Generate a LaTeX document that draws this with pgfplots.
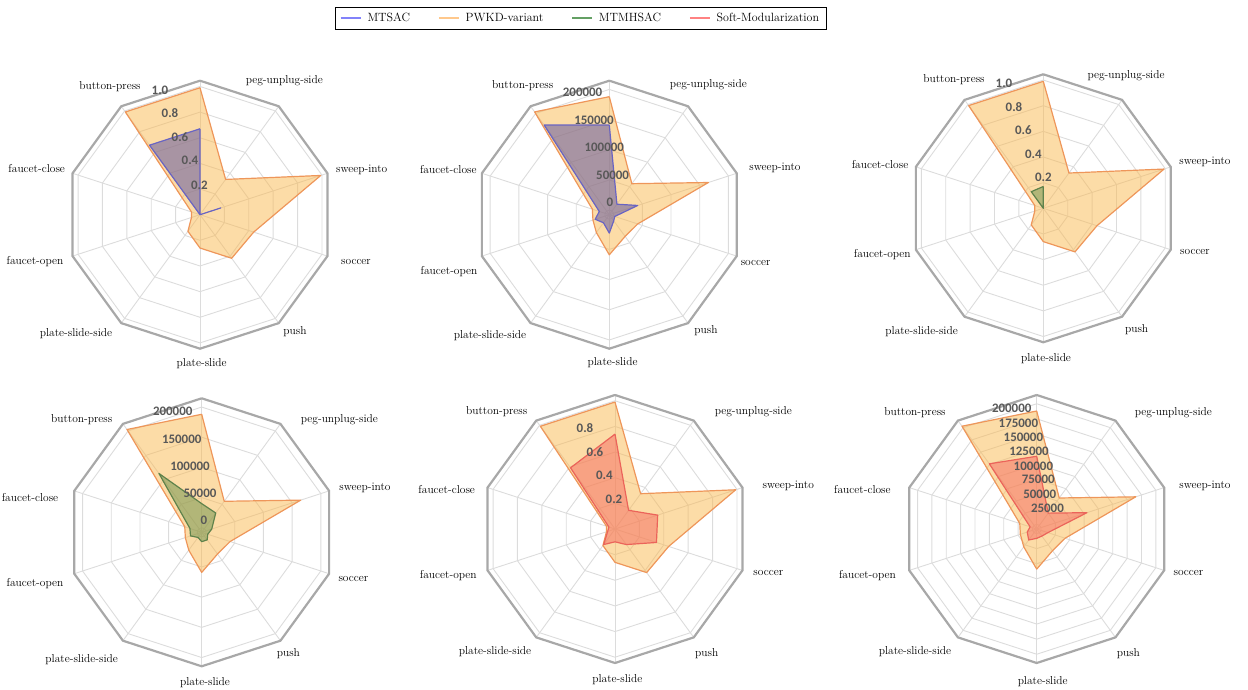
\documentclass[border=0pt]{standalone}
\usepackage{pgfplots}
\pgfplotsset{compat=1.18}
\usepackage{pgfplotstable}
\usepackage{fontspec}
\newfontfamily\tickfont{Carlito}

% colours
\definecolor{gridc}{RGB}{220,220,220}
\definecolor{rimc}{RGB}{168,168,168}
\definecolor{pwline}{RGB}{238,150,90}
\definecolor{pwfill}{RGB}{250,185,80}
\definecolor{mtline}{RGB}{105,100,195}
\definecolor{mtfill}{RGB}{100,90,160}
\definecolor{mhline}{RGB}{95,130,75}
\definecolor{mhfill}{RGB}{105,145,75}
\definecolor{smline}{RGB}{235,100,90}
\definecolor{smfill}{RGB}{245,105,95}
\definecolor{tickc}{RGB}{88,88,88}
\definecolor{legmt}{RGB}{130,130,250}
\definecolor{legpw}{RGB}{255,200,140}
\definecolor{legmh}{RGB}{100,160,100}
\definecolor{legsm}{RGB}{255,130,130}

% spokes: top, peg-unplug-side, sweep-into, soccer, push, plate-slide,
% plate-slide-side, faucet-open, faucet-close, button-press (clockwise)
\pgfplotstableread{
a     pw     mtsac  mtmh  soft
90    0.99   0.67   0.17  0.74
54    0.34   0.00   0.00  0.18
18    0.99   0.17   0.00  0.35
-18   0.44   0.00   0.00  0.34
-54   0.42   0.00   0.00  0.15
-90   0.26   0.00   0.00  0.10
-126  0.16   0.00   0.00  0.15
-162  0.07   0.00   0.00  0.06
-198  0.07   0.00   0.00  0.05
-234  0.99   0.67   0.16  0.59
90    0.99   0.67   0.17  0.74
}\successdata

\pgfplotstableread{
a     pw      mtsac   mtmh    soft
90    188000  141000  40000   113000
54    56000   14000   32000   25000
18    165000  42000   10000   80000
-18   42000   2000    3000    12000
-54   37000   5000    8000    7000
-90   59000   23000   8000    8000
-126  29000   9000    3000    15000
-162  21000   17000   12000   9000
-198  22000   10000   13000   4000
-234  203000  176000  113000  126000
90    188000  141000  40000   113000
}\rewarddata

% spoke angles for the polygon rings
\pgfplotstableread{
a     k
90    0
54    1
18    2
-18   3
-54   4
-90   5
-126  6
-162  7
-198  8
-234  9
90    10
}\ringangles

% radial extent of one spoke
\pgfplotstableread{
r  k
0  0
1  1
}\spoketab

\pgfplotsset{
  radar/.style={hide axis, clip=false, scale only axis,
    width=268bp, height=268bp,
    xmin=-1, xmax=1, ymin=-1, ymax=1, anchor=center},
}

% polygon rings at the given normalised radii
\newcommand\rings[1]{%
  \pgfplotsinvokeforeach{#1}{%
    \addplot[gridc, line width=0.9bp] table[x expr={##1*cos(\thisrow{a})},
      y expr={##1*sin(\thisrow{a})}] {\ringangles};}%
}
% spokes and outer rim
\newcommand\radarframe{%
  \pgfplotsinvokeforeach{90,54,18,-18,-54,-90,-126,-162,-198,-234}{%
    \addplot[gridc, line width=0.9bp] table[x expr={\thisrow{r}*cos(##1)},
      y expr={\thisrow{r}*sin(##1)}] {\spoketab};}%
  \addplot[rimc, line width=2.2bp] table[x expr={cos(\thisrow{a})},
    y expr={sin(\thisrow{a})}] {\ringangles};%
}
% one filled series: table, column, line colour, fill colour, fill opacity
\newcommand\series[5]{%
  \addplot[draw=#3, fill=#4, fill opacity=#5, line width=1.2bp, line join=round]
    table[x expr={(\thisrow{#2}-\rmin)/\rspan*cos(\thisrow{a})},
          y expr={(\thisrow{#2}-\rmin)/\rspan*sin(\thisrow{a})}] {#1};%
}
\newcommand\cat[3]{\node[font=\fontsize{11.5}{13}\selectfont, inner sep=0pt]
  at ([xshift=#1bp,yshift=#2bp]axis cs:0,0) {#3};}
\newcommand\tk[3]{\node[font=\tickfont\bfseries\fontsize{13}{15}\selectfont,
  text=tickc, inner sep=0pt] at ([xshift=#1bp,yshift=#2bp]axis cs:0,0) {#3};}

\begin{document}
\begin{tikzpicture}
\useasboundingbox (0bp,0bp) rectangle (1248bp,690bp);

% ---------- legend ----------
\begin{axis}[at={(580.5bp,672bp)}, anchor=center, hide axis, scale only axis,
  width=10bp, height=10bp, xmin=0, xmax=1, ymin=0, ymax=1,
  legend columns=4,
  legend style={at={(0.5,0.5)}, anchor=center, draw=black, line width=0.8bp,
    font=\fontsize{12}{14}\selectfont, inner xsep=5bp, inner ysep=4bp,
    /tikz/every odd column/.append style={column sep=4bp},
    /tikz/every even column/.append style={column sep=26bp}},
  legend image code/.code={\draw[#1, line width=1.6bp] (0bp,0bp) -- (20bp,0bp);}]
\addlegendimage{legmt}\addlegendentry{MTSAC}
\addlegendimage{legpw}\addlegendentry{PWKD-variant}
\addlegendimage{legmh}\addlegendentry{MTMHSAC}
\addlegendimage{legsm}\addlegendentry{Soft-Modularization}
\end{axis}

% ---------- success rate: PWKD-variant vs MTSAC ----------
\def\rmin{0}\def\rspan{1.045}
\begin{axis}[radar, at={(200bp,475.3bp)}]
\rings{0.1914,0.3828,0.5742,0.7656,0.9569}
\radarframe
\series{\successdata}{pw}{pwline}{pwfill}{0.5}
\series{\successdata}{mtsac}{mtline}{mtfill}{0.55}
\tk{-0.7}{29.7}{0.2}\tk{-10}{54}{0.4}\tk{-20}{77.3}{0.6}\tk{-30}{101.3}{0.8}\tk{-40}{124.7}{1.0}
\cat{-90}{128}{button-press}\cat{84.3}{134}{peg-unplug-side}
\cat{161.7}{45.3}{sweep-into}\cat{156}{-47}{soccer}\cat{95}{-117}{push}
\cat{1.7}{-149.3}{plate-slide}\cat{-124}{-119.3}{plate-slide-side}
\cat{-165}{-47}{faucet-open}\cat{-163.3}{46.3}{faucet-close}
\end{axis}

% ---------- reward: PWKD-variant vs MTSAC ----------
\def\rmin{-7500}\def\rspan{222000}
\begin{axis}[radar, at={(609.3bp,475.3bp)}]
\rings{0.0338,0.2590,0.4842,0.7095,0.9347}
\radarframe
\series{\rewarddata}{pw}{pwline}{pwfill}{0.5}
\series{\rewarddata}{mtsac}{mtline}{mtfill}{0.55}
\tk{0.7}{12}{0}\tk{3.3}{39.7}{50000}\tk{-5}{67.3}{100000}\tk{-15.3}{94.7}{150000}\tk{-26.7}{122}{200000}
\cat{-86.7}{128.7}{button-press}\cat{99}{129.7}{peg-unplug-side}
\cat{165.7}{47}{sweep-into}\cat{146.3}{-48}{soccer}\cat{96.7}{-116.3}{push}
\cat{3.3}{-147.7}{plate-slide}\cat{-119.3}{-121}{plate-slide-side}
\cat{-160.3}{-57}{faucet-open}\cat{-161}{44.7}{faucet-close}
\end{axis}

% ---------- success rate: PWKD-variant vs MTMHSAC ----------
\def\rmin{0}\def\rspan{1.045}
\begin{axis}[radar, at={(1043.3bp,481.7bp)}]
\rings{0.1914,0.3828,0.5742,0.7656,0.9569}
\radarframe
\series{\successdata}{pw}{pwline}{pwfill}{0.5}
\series{\successdata}{mtmh}{mhline}{mhfill}{0.5}
\tk{0}{30.7}{0.2}\tk{-10}{54}{0.4}\tk{-20}{77.7}{0.6}\tk{-29.3}{101}{0.8}\tk{-39.3}{125}{1.0}
\cat{-89.3}{128.3}{button-press}\cat{82.7}{132.3}{peg-unplug-side}
\cat{161.7}{46.7}{sweep-into}\cat{151.7}{-43.3}{soccer}\cat{93.3}{-121}{push}
\cat{2.7}{-150.7}{plate-slide}\cat{-121.7}{-123.3}{plate-slide-side}
\cat{-161}{-46}{faucet-open}\cat{-163.3}{43.3}{faucet-close}
\end{axis}

% ---------- reward: PWKD-variant vs MTMHSAC ----------
\def\rmin{-7500}\def\rspan{222000}
\begin{axis}[radar, at={(201.7bp,157.7bp)}]
\rings{0.0338,0.2590,0.4842,0.7095,0.9347}
\radarframe
\series{\rewarddata}{pw}{pwline}{pwfill}{0.5}
\series{\rewarddata}{mtmh}{mhline}{mhfill}{0.5}
\tk{2.3}{12.3}{0}\tk{-1.7}{39}{50000}\tk{-11.7}{66.3}{100000}\tk{-20}{93.3}{150000}\tk{-29}{120.7}{200000}
\cat{-120}{112.3}{button-press}\cat{137.7}{112.3}{peg-unplug-side}
\cat{163.3}{44}{sweep-into}\cat{151.7}{-46.7}{soccer}\cat{86.7}{-121.7}{push}
\cat{3.3}{-150.3}{plate-slide}\cat{-120}{-127}{plate-slide-side}
\cat{-166.7}{-51}{faucet-open}\cat{-171.7}{35}{faucet-close}
\end{axis}

% ---------- success rate: PWKD-variant vs Soft-Modularization ----------
\def\rmin{0}\def\rspan{1.045}
\begin{axis}[radar, at={(615bp,161bp)}]
\rings{0.1914,0.3828,0.5742,0.7656,0.9569}
\radarframe
\series{\successdata}{pw}{pwline}{pwfill}{0.5}
\series{\successdata}{soft}{smline}{smfill}{0.5}
\tk{-1}{29.7}{0.2}\tk{-10.7}{53.3}{0.4}\tk{-20}{76.7}{0.6}\tk{-30}{100.7}{0.8}
\cat{-118.3}{117.3}{button-press}\cat{138.3}{117.3}{peg-unplug-side}
\cat{173.3}{43}{sweep-into}\cat{153.3}{-43.7}{soccer}\cat{91.7}{-124.3}{push}
\cat{2.3}{-151}{plate-slide}\cat{-120}{-122.7}{plate-slide-side}
\cat{-166.7}{-47}{faucet-open}\cat{-168.3}{39.7}{faucet-close}
\end{axis}

% ---------- reward: PWKD-variant vs Soft-Modularization ----------
\def\rmin{-7500}\def\rspan{222000}
\begin{axis}[radar, at={(1036.7bp,161bp)}]
\rings{0.0338,0.1464,0.2590,0.3716,0.4842,0.5968,0.7095,0.8221,0.9347}
\radarframe
\series{\rewarddata}{pw}{pwline}{pwfill}{0.5}
\series{\rewarddata}{soft}{smline}{smfill}{0.5}
\tk{10.7}{20.7}{25000}\tk{3}{34.5}{50000}\tk{1.5}{49.5}{75000}\tk{-3.3}{63}{100000}
\tk{-7.7}{77.3}{125000}\tk{-13.3}{91.7}{150000}\tk{-18.3}{105.7}{175000}\tk{-25}{120.7}{200000}
\cat{-121.7}{116.7}{button-press}\cat{136.7}{116.7}{peg-unplug-side}
\cat{168.3}{43}{sweep-into}\cat{151.7}{-44.3}{soccer}\cat{91.7}{-125}{push}
\cat{6}{-152.7}{plate-slide}\cat{-121.7}{-122.7}{plate-slide-side}
\cat{-169.3}{-47}{faucet-open}\cat{-174.3}{39.7}{faucet-close}
\end{axis}
\end{tikzpicture}
\end{document}
